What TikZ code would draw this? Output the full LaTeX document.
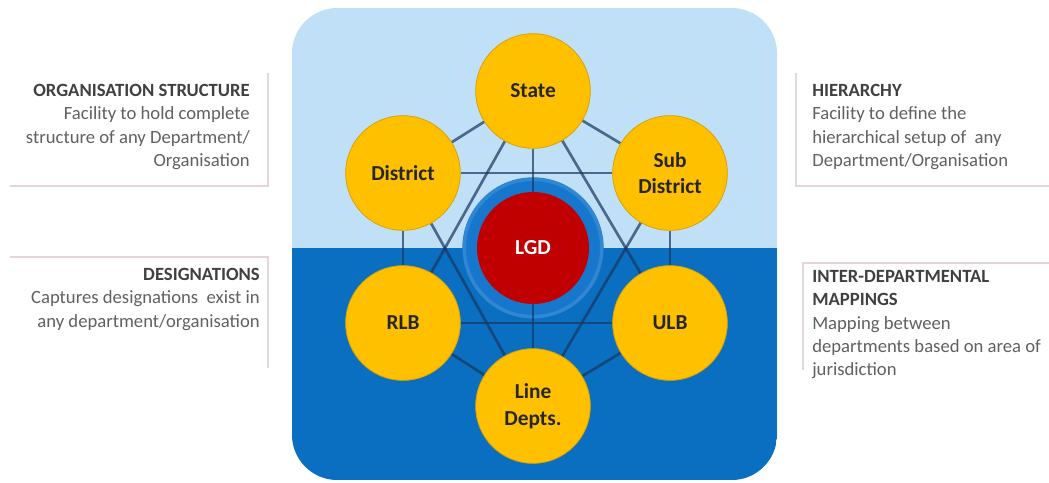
\documentclass[tikz,border=0pt]{standalone}
\usepackage{fontspec}
\setmainfont{Carlito}
\usepackage{tikz}
\usetikzlibrary{backgrounds}

\definecolor{skyblue}{HTML}{C0E0F8}
\definecolor{deepblue}{HTML}{0A6FC0}
\definecolor{haloblue}{HTML}{1677CC}
\definecolor{gold}{HTML}{FFC000}
\definecolor{lgdred}{HTML}{C00000}
\definecolor{linkblue}{HTML}{17375E}
\definecolor{framepink}{HTML}{E6D4D9}
\definecolor{textgrey}{HTML}{606060}
\definecolor{headgrey}{HTML}{404040}

\tikzset{
  unit/.style={circle, fill=gold, draw=gold!85!black, line width=0.6pt, minimum size=86pt, inner sep=0pt, align=center, text=black!85, font=\fontsize{16}{20}\selectfont\bfseries},
  core/.style={circle, fill=lgdred, minimum size=84pt, inner sep=0pt, text=white, font=\fontsize{16}{20}\selectfont\bfseries},
  link/.style={linkblue, line width=2pt, opacity=0.7},
  note/.style={inner sep=0pt, text=textgrey, font=\fontsize{14}{17.5}\selectfont},
  rim/.style={framepink, line width=2pt},
}

\begin{document}
\begin{tikzpicture}[x=0.75pt, y=-0.75pt]
  \useasboundingbox (0,0) rectangle (1049,482);

  % The seven offices
  \node[unit] (state) at (533,91) {State};
  \node[unit] (district) at (403,173) {District};
  \node[unit] (subdist) at (670,173) {Sub\\District};
  \node[unit] (rlb) at (403,323) {RLB};
  \node[unit] (ulb) at (670,323) {ULB};
  \node[unit] (depts) at (533,406) {Line\\Depts.};
  \node[core] (lgd) at (533,248) {LGD};

  \begin{scope}[on background layer]
    % Panel, light above and dark below
    \fill[skyblue, rounded corners=34pt] (292,8) rectangle (777,480);
    \begin{scope}
      \clip[rounded corners=34pt] (292,8) rectangle (777,480);
      \fill[deepblue] (292,248) rectangle (777,480);
    \end{scope}

    % Glow round the centre
    \fill[haloblue] (lgd.center) circle (53pt);
    \draw[white, opacity=0.12, line width=2.5pt] (lgd.center) circle (51.5pt);

    % Outer ring
    \draw[link] (state) -- (district);
    \draw[link] (district) -- (rlb);
    \draw[link] (rlb) -- (depts);
    \draw[link] (depts) -- (ulb);
    \draw[link] (ulb) -- (subdist);
    \draw[link] (subdist) -- (state);
    % The two triangles
    \draw[link] (state) -- (rlb);
    \draw[link] (rlb) -- (ulb);
    \draw[link] (ulb) -- (state);
    \draw[link] (district) -- (subdist);
    \draw[link] (subdist) -- (depts);
    \draw[link] (depts) -- (district);
    % Through the centre
    \draw[link] (state) -- (lgd);
    \draw[link] (lgd) -- (depts);
  \end{scope}

  % Notes on the left
  \node[note, anchor=north east, align=right] (orgnote) at (250,84)
    {\textcolor{headgrey}{\bfseries ORGANISATION STRUCTURE}\\Facility to hold complete\\structure of any Department/\\Organisation};
  \draw[rim] (268,73) -- (268,186) -- (10,186);

  \node[note, anchor=north east, align=right] (desnote) at (260,268)
    {\textcolor{headgrey}{\bfseries DESIGNATIONS}\\Captures designations\ \ exist in\\any department/organisation};
  \draw[rim] (10,257) -- (268,257) -- (268,368);

  % Notes on the right
  \node[note, anchor=north west, align=left] (hiernote) at (812,84)
    {\textcolor{headgrey}{\bfseries HIERARCHY}\\Facility to define the\\hierarchical setup of\ \ any\\Department/Organisation};
  \draw[rim] (796,73) -- (796,186) -- (1049,186);

  \node[note, anchor=north west, align=left] (mapnote) at (812,270)
    {\textcolor{headgrey}{\bfseries INTER-DEPARTMENTAL}\\\textcolor{headgrey}{\bfseries MAPPINGS}\\Mapping between\\departments based on area of\\jurisdiction};
  \draw[rim] (803,370) -- (803,263) -- (1049,263);
\end{tikzpicture}
\end{document}
